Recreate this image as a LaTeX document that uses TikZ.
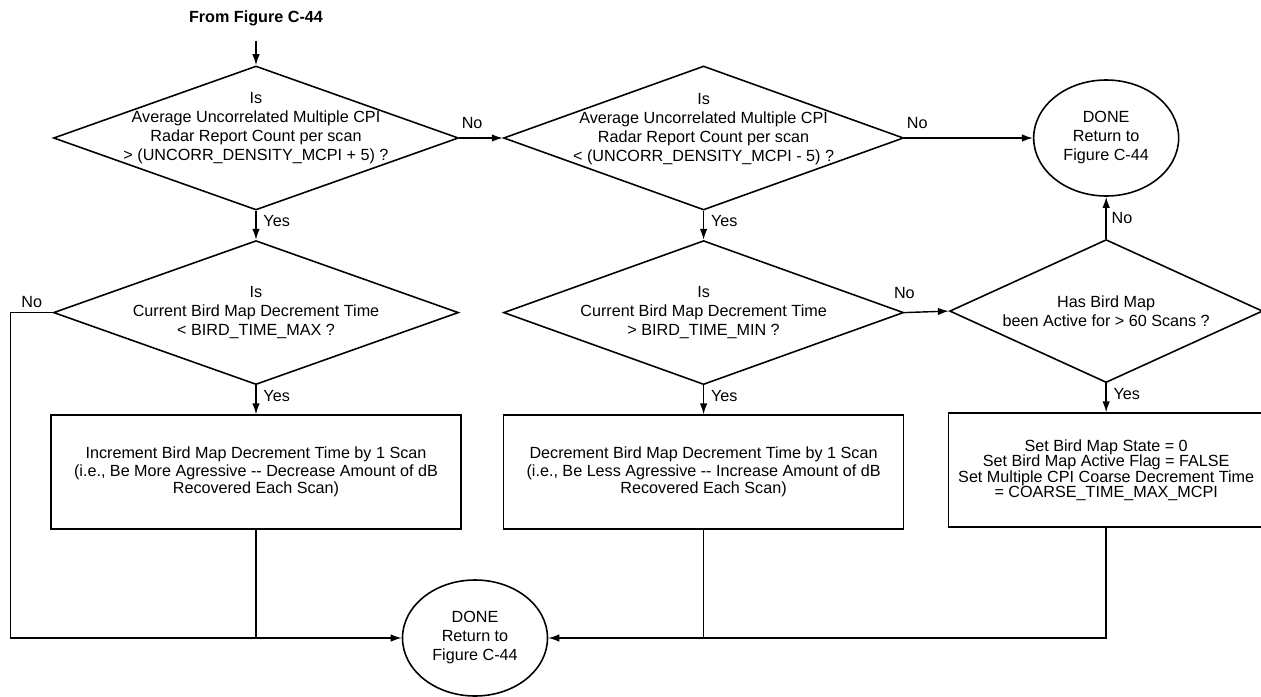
\documentclass[tikz,border=0pt]{standalone}
\usepackage{fontspec}
\setmainfont{Liberation Sans}
\usepackage{tikz}
\usetikzlibrary{arrows.meta,positioning,shapes.geometric}

\begin{document}
\begin{tikzpicture}[
font=\fontsize{9.2}{10.8}\selectfont,
cond/.style={draw,diamond,line width=0.9pt,inner sep=0pt,minimum width=8.1cm,minimum height=2.88cm},
condtext/.style={align=center,inner sep=0pt},
box/.style={draw,rectangle,line width=0.9pt,align=center,minimum height=2.28cm,font=\fontsize{9.2}{10}\selectfont},
done/.style={draw,ellipse,line width=0.9pt,align=center,inner sep=0pt,minimum width=2.9cm,minimum height=2.32cm},
arrow/.style={-{Latex[length=2.2mm,width=1.5mm]},line width=0.8pt},
line/.style={line width=0.8pt},
lbl/.style={inner sep=1pt}
]
\useasboundingbox (0,0) rectangle (25.22,-13.94);
\node[font=\fontsize{9.2}{10.8}\selectfont\bfseries] (from) at (5.12,-0.36) {From Figure C-44};
\node[cond] (hiq) at (5.12,-2.76) {};
\node[condtext,yshift=0.19cm] (hiqtxt) at (hiq) {Is\\Average Uncorrelated Multiple CPI\\Radar Report Count per scan\\> (UNCORR\_DENSITY\_MCPI + 5) ?};
\node[cond,minimum width=8cm,right=0.87cm of hiq] (loq) {};
\node[condtext,yshift=0.18cm] (loqtxt) at (loq) {Is\\Average Uncorrelated Multiple CPI\\Radar Report Count per scan\\< (UNCORR\_DENSITY\_MCPI - 5) ?};
\node[done,right=2.57cm of loq] (done1) {DONE\\Return to\\Figure C-44};
\node[cond,below=0.58cm of hiq] (maxq) {};
\node[condtext] (maxqtxt) at (maxq) {Is\\Current Bird Map Decrement Time\\< BIRD\_TIME\_MAX ?};
\node[cond,minimum width=8cm,below=0.58cm of loq] (minq) {};
\node[condtext] (minqtxt) at (minq) {Is\\Current Bird Map Decrement Time\\> BIRD\_TIME\_MIN ?};
\node[cond,minimum width=6.26cm,minimum height=2.86cm,below=0.84cm of done1] (activeq) {};
\node[condtext] (activeqtxt) at (activeq) {Has Bird Map\\been Active for > 60 Scans ?};
\node[box,minimum width=8.2cm,below=0.58cm of maxq] (incbox) {Increment Bird Map Decrement Time by 1 Scan\\(i.e., Be More Agressive -{}- Decrease Amount of dB\\Recovered Each Scan)};
\node[box,minimum width=8cm,below=0.58cm of minq] (decbox) {Decrement Bird Map Decrement Time by 1 Scan\\(i.e., Be Less Agressive -{}- Increase Amount of dB\\Recovered Each Scan)};
\node[box,minimum width=6.3cm,below=0.58cm of activeq,font=\fontsize{9.2}{8.8}\selectfont] (resetbox) {Set Bird Map State = 0\\Set Bird Map Active Flag = FALSE\\Set Multiple CPI Coarse Decrement Time\\= COARSE\_TIME\_MAX\_MCPI};
\node[done] (done2) at (9.5,-12.76) {DONE\\Return to\\Figure C-44};
\draw[arrow,shorten <=0.18cm] (from.south) -- (hiq.north);
\draw[arrow] (hiq.east) -- node[lbl,pos=0,above right,yshift=0.13cm] {No} (loq.west);
\draw[arrow] (loq.east) -- node[lbl,pos=0,above right,yshift=0.13cm] {No} (done1.west);
\draw[arrow] (hiq.south) -- node[lbl,pos=0.35,right,xshift=0.1cm] {Yes} (maxq.north);
\draw[arrow] (loq.south) -- node[lbl,pos=0.35,right,xshift=0.1cm] {Yes} (minq.north);
\draw[arrow] (minq.east) -- node[lbl,pos=0,above,yshift=0.23cm] {No} (activeq.west);
\draw[arrow] (activeq.north) -- node[lbl,midway,right,xshift=0.06cm] {No} (done1.south);
\draw[arrow] (maxq.south) -- node[lbl,pos=0.35,right,xshift=0.1cm] {Yes} (incbox.north);
\draw[arrow] (minq.south) -- node[lbl,pos=0.35,right,xshift=0.1cm] {Yes} (decbox.north);
\draw[arrow] (activeq.south) -- node[lbl,pos=0.35,right,xshift=0.1cm] {Yes} (resetbox.north);
\draw[arrow] (maxq.west) -- node[lbl,above,yshift=0.05cm] {No} ++(-0.84,0) |- (done2.west);
\draw[line] (incbox.south) -- (incbox.south |- done2.west);
\draw[line] (decbox.south) -- (decbox.south |- done2.east);
\draw[arrow] (resetbox.south) |- (done2.east);
\end{tikzpicture}
\end{document}
